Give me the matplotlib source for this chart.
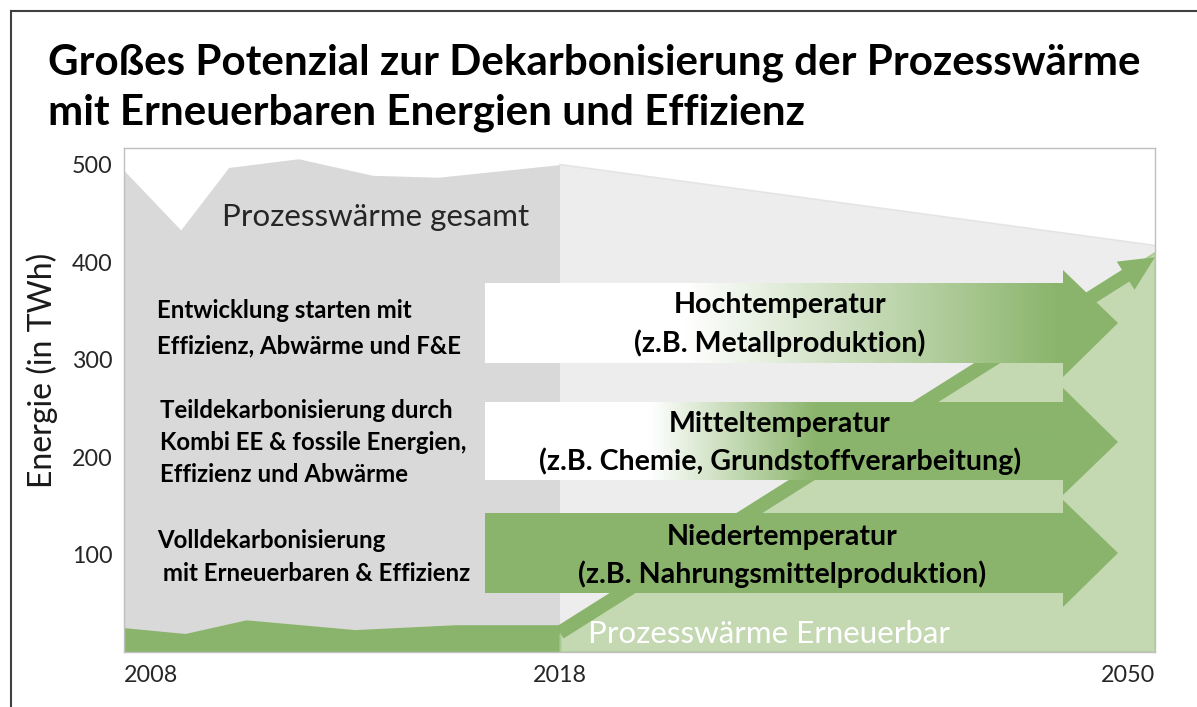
import matplotlib
matplotlib.use("Agg")
import matplotlib.pyplot as plt
import numpy as np
from matplotlib.patches import Polygon
from matplotlib.colors import LinearSegmentedColormap
from matplotlib.transforms import Affine2D
from matplotlib.lines import Line2D

# ---------------- data ----------------
years_total_hist = [2008, 2009.3, 2010.4, 2012, 2013.7, 2015.2, 2018]
total_hist = [494, 433, 497, 506, 489, 487, 500]
years_total_proj = [2018, 2050]
total_proj = [500, 417]
years_re_hist = [2008, 2009.4, 2010.8, 2013.3, 2015.6, 2018]
re_hist = [25, 19, 33, 23, 28, 28]
years_re_proj = [2018, 2050]
re_proj = [18, 410]
arrow_end = [2018, 2050]
arrow_vals = [20, 405]
y_ticks = [100, 200, 300, 400, 500]
x_ticks = [2008, 2018, 2050]
title_lines = ["Großes Potenzial zur Dekarbonisierung der Prozesswärme",
               "mit Erneuerbaren Energien und Effizienz"]
left_labels = [["Entwicklung starten mit", "Effizienz, Abwärme und F&E"],
               ["Teildekarbonisierung durch", "Kombi EE & fossile Energien,", "Effizienz und Abwärme"],
               ["Volldekarbonisierung", " mit Erneuerbaren & Effizienz"]]
arrow_labels = [["Hochtemperatur", "(z.B. Metallproduktion)"],
                ["Mitteltemperatur", "(z.B. Chemie, Grundstoffverarbeitung)"],
                ["Niedertemperatur", "(z.B. Nahrungsmittelproduktion)"]]
label_total = "Prozesswärme gesamt"
label_re = "Prozesswärme Erneuerbar"
y_label = "Energie (in TWh)"

# ---------------- style ----------------
FONT = ["Lato", "DejaVu Sans"]
plt.rcParams['font.family'] = FONT
green = '#8ab46b'
light_green = '#c4d9b2'
gray_dark = '#d9d9d9'
gray_light = '#ededed'

W, H = 1197, 707
fig = plt.figure(figsize=(W / 100, H / 100), dpi=100)
px = Affine2D().scale(1 / W, -1 / H).translate(0, 1) + fig.transFigure
renderer = fig.canvas.get_renderer()


def size_for(s, width, **kw):
    t = fig.text(0, 0, s, fontsize=10, **kw)
    w = t.get_window_extent(renderer).width
    t.remove()
    return 10 * width / w


def ptext(x, y, s, **kw):
    return fig.text(x / W, 1 - y / H, s, **kw)


ax = fig.add_axes([124 / W, 1 - 652 / H, (1155 - 124) / W, (652 - 148) / H])

ratio = ((1155 - 560) / 32) / ((560 - 124) / 10)


def fwd(x):
    x = np.asarray(x, float)
    return np.where(x <= 2018, x - 2008, 10 + (x - 2018) * ratio)


def inv(u):
    u = np.asarray(u, float)
    return np.where(u <= 10, u + 2008, 2018 + (u - 10) / ratio)


ax.set_xscale('function', functions=(fwd, inv))

# areas
ax.fill_between(years_total_hist, 0, total_hist, color=gray_dark, lw=0, zorder=1)
ax.fill_between(years_total_proj, 0, total_proj, color=gray_light, lw=0, zorder=1)
ax.plot(years_total_proj, total_proj, color='#e4e4e4', lw=1.2, zorder=1.1)
ax.fill_between(years_re_hist, 0, re_hist, color=green, lw=0, zorder=1.5)
ax.fill_between(years_re_proj, 0, re_proj, facecolor=light_green,
                edgecolor='#a9cd90', lw=1.5, zorder=1.5)

# growth arrow
ax.annotate("", xy=(arrow_end[1], arrow_vals[1]), xytext=(arrow_end[0], arrow_vals[0]),
            arrowprops=dict(arrowstyle="simple,head_length=2.5,head_width=2.4,tail_width=1.0",
                            mutation_scale=10, color=green, lw=0,
                            shrinkA=0, shrinkB=0), zorder=3)

# block arrows (pixel layout)
blocks = [  # body y0, y1, head y0, y1, tip y, gradient start, gradient end
    (283, 363, 270, 377, 323, 685, 1060),
    (402, 480, 388, 495, 442, 650, 816),
    (513, 593, 500, 607, 553, None, None),
]
bx0, bx1, tipx = 485, 1063, 1118
cmap = LinearSegmentedColormap.from_list('wg', ['#ffffff', green])
for (y0, y1, hy0, hy1, ty, gs, ge) in blocks:
    poly = Polygon([(bx0, y0), (bx1, y0), (bx1, hy0), (tipx, ty), (bx1, hy1), (bx1, y1), (bx0, y1)],
                   closed=True, facecolor=green, edgecolor='none', transform=px, zorder=4)
    ax.add_patch(poly)
    if gs is not None:
        xs = np.arange(bx0, bx1 + 1)
        g = np.clip((xs - gs) / (ge - gs), 0, 1)[None, :]
        ax.imshow(g, cmap=cmap, vmin=0, vmax=1, extent=(bx0, bx1 + 1, y1, y0),
                  transform=px, aspect='auto', zorder=4.1, interpolation='bilinear')

ax.set_xlim(2008, 2050)
ax.set_ylim(0, 517)
ax.set_autoscale_on(False)

for sp in ax.spines.values():
    sp.set_color('#bfbfbf')
    sp.set_linewidth(1.0)
    sp.set_zorder(2)

tick_size = size_for("2050", 54)
ax.set_yticks(y_ticks)
ax.set_yticklabels([str(v) for v in y_ticks])
ax.set_xticks(x_ticks)
ax.set_xticklabels([str(v) for v in x_ticks])
ax.tick_params(length=0, labelsize=tick_size, colors='#262626')
ax.tick_params(axis='y', pad=8)
ax.tick_params(axis='x', pad=9)
for lbl, ha in zip(ax.get_xticklabels(), ['left', 'center', 'right']):
    lbl.set_ha(ha)

# texts
ts = size_for(title_lines[0], 1094, fontweight='bold')
ptext(48, 75, title_lines[0], fontsize=ts, fontweight='bold', va='baseline', color='black')
ptext(48, 124, title_lines[1], fontsize=ts, fontweight='bold', va='baseline', color='black')

ys = size_for(y_label, 235)
ptext(42, 370, y_label, fontsize=ys, rotation=90, ha='center', va='center', color='#1a1a1a')

gs_ = size_for(label_total, 307)
ptext(376, 226, label_total, fontsize=gs_, ha='center', va='baseline', color='#262626', zorder=6)
rs = size_for(label_re, 362)
ptext(769, 643, label_re, fontsize=rs, ha='center', va='baseline', color='white', zorder=6)

ls = size_for("Kombi EE & fossile Energien,", 308, fontweight='bold')
left_pos = [[(157, 318), (157, 353)],
            [(160, 418), (160, 450), (160, 482)],
            [(157, 548), (157, 581)]]
for lines, poss in zip(left_labels, left_pos):
    for s, (x, y) in zip(lines, poss):
        ptext(x, y, s, fontsize=ls, fontweight='bold', va='baseline', color='black', zorder=6)

as_ = size_for(arrow_labels[1][1], 483, fontweight='bold')
arrow_pos = [(780, 313, 352), (780, 432, 470), (782, 545, 583)]
for lines, (x, ya, yb) in zip(arrow_labels, arrow_pos):
    ptext(x, ya, lines[0], fontsize=as_, fontweight='bold', ha='center', va='baseline', color='black', zorder=6)
    ptext(x, yb, lines[1], fontsize=as_, fontweight='bold', ha='center', va='baseline', color='black', zorder=6)

# frame lines of the graphic
fig.add_artist(Line2D([11, 11], [11, H], transform=px, color='#404040', lw=1.5))
fig.add_artist(Line2D([11, W], [11, 11], transform=px, color='#404040', lw=1.5))

fig.savefig("out.png", dpi=100)
